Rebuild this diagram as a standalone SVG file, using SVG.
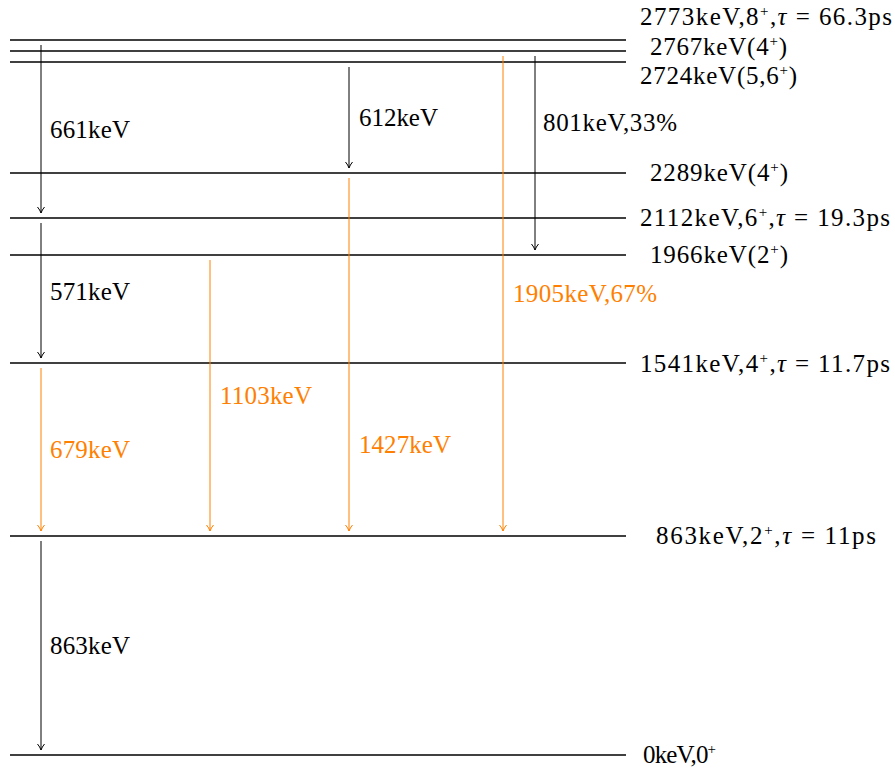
<svg xmlns="http://www.w3.org/2000/svg" width="895" height="771" viewBox="0 0 895 771">
<defs>
<marker id="ab" markerWidth="10" markerHeight="10" refX="8" refY="5" orient="auto" markerUnits="userSpaceOnUse"><path d="M2,1.5 Q5,4 8,5 Q5,6 2,8.5" fill="none" stroke="#000" stroke-width="1"/></marker>
<marker id="ao" markerWidth="10" markerHeight="10" refX="8" refY="5" orient="auto" markerUnits="userSpaceOnUse"><path d="M2,1.5 Q5,4 8,5 Q5,6 2,8.5" fill="none" stroke="#ff8000" stroke-width="1"/></marker>
<style>
.lv{stroke:#000;stroke-width:1.6;fill:none}
.a{stroke:#000;stroke-width:1;fill:none;marker-end:url(#ab)}
.o{stroke:#ff8000;stroke-width:1;fill:none;marker-end:url(#ao)}
text{font-family:"Liberation Serif","DejaVu Serif",serif;font-size:25px;fill:#000}
.ot{fill:#ff8000}
.sup{font-size:15px}
</style>
</defs>
<g id="levels">
<g id="l2773"><line class="lv" x1="10" y1="40" x2="626" y2="40"/><text x="640" y="25" textLength="252" lengthAdjust="spacing">2773keV,8<tspan class="sup" dy="-9">+</tspan><tspan dy="9">,</tspan><tspan font-style="italic">τ</tspan> = 66.3ps</text></g>
<g id="l2767"><line class="lv" x1="10" y1="51" x2="626" y2="51"/><text x="650" y="55" textLength="137" lengthAdjust="spacing">2767keV(4<tspan class="sup" dy="-9">+</tspan><tspan dy="9">)</tspan></text></g>
<g id="l2724"><line class="lv" x1="10" y1="62" x2="626" y2="62"/><text x="640" y="84" textLength="157" lengthAdjust="spacing">2724keV(5,6<tspan class="sup" dy="-9">+</tspan><tspan dy="9">)</tspan></text></g>
<g id="l2289"><line class="lv" x1="10" y1="173" x2="626" y2="173"/><text x="650" y="181" textLength="138" lengthAdjust="spacing">2289keV(4<tspan class="sup" dy="-9">+</tspan><tspan dy="9">)</tspan></text></g>
<g id="l2112"><line class="lv" x1="10" y1="218" x2="626" y2="218"/><text x="640" y="226" textLength="250" lengthAdjust="spacing">2112keV,6<tspan class="sup" dy="-9">+</tspan><tspan dy="9">,</tspan><tspan font-style="italic">τ</tspan> = 19.3ps</text></g>
<g id="l1966"><line class="lv" x1="10" y1="255" x2="626" y2="255"/><text x="650" y="263" textLength="138" lengthAdjust="spacing">1966keV(2<tspan class="sup" dy="-9">+</tspan><tspan dy="9">)</tspan></text></g>
<g id="l1541"><line class="lv" x1="10" y1="363" x2="626" y2="363"/><text x="640" y="372" textLength="250" lengthAdjust="spacing">1541keV,4<tspan class="sup" dy="-9">+</tspan><tspan dy="9">,</tspan><tspan font-style="italic">τ</tspan> = 11.7ps</text></g>
<g id="l863"><line class="lv" x1="10" y1="536" x2="626" y2="536"/><text x="656" y="544" textLength="220" lengthAdjust="spacing">863keV,2<tspan class="sup" dy="-9">+</tspan><tspan dy="9">,</tspan><tspan font-style="italic">τ</tspan> = 11ps</text></g>
<g id="l0"><line class="lv" x1="10" y1="755" x2="626" y2="755"/><text x="643" y="763" textLength="73" lengthAdjust="spacing">0keV,0<tspan class="sup" dy="-9">+</tspan></text></g>
</g>
<g id="connectors">
<line class="a" x1="41" y1="45" x2="41" y2="213"/>
<line class="a" x1="349" y1="67" x2="349" y2="168"/>
<line class="a" x1="535" y1="56" x2="535" y2="250"/>
<line class="o" x1="503" y1="56" x2="503" y2="531"/>
<line class="a" x1="41" y1="223" x2="41" y2="358"/>
<line class="o" x1="41" y1="368" x2="41" y2="531"/>
<line class="o" x1="210" y1="260" x2="210" y2="531"/>
<line class="o" x1="349" y1="178" x2="349" y2="531"/>
<line class="a" x1="41" y1="541" x2="41" y2="750"/>
<text x="50" y="138" textLength="80" lengthAdjust="spacing">661keV</text>
<text x="359" y="126" textLength="79" lengthAdjust="spacing">612keV</text>
<text x="543" y="131" textLength="134" lengthAdjust="spacing">801keV,33%</text>
<text class="ot" x="513" y="302" textLength="144" lengthAdjust="spacing">1905keV,67%</text>
<text x="50" y="300" textLength="80" lengthAdjust="spacing">571keV</text>
<text class="ot" x="50" y="458" textLength="80" lengthAdjust="spacing">679keV</text>
<text class="ot" x="220" y="404" textLength="92" lengthAdjust="spacing">1103keV</text>
<text class="ot" x="359" y="453" textLength="92" lengthAdjust="spacing">1427keV</text>
<text x="50" y="654" textLength="80" lengthAdjust="spacing">863keV</text>
</g>
</svg>
